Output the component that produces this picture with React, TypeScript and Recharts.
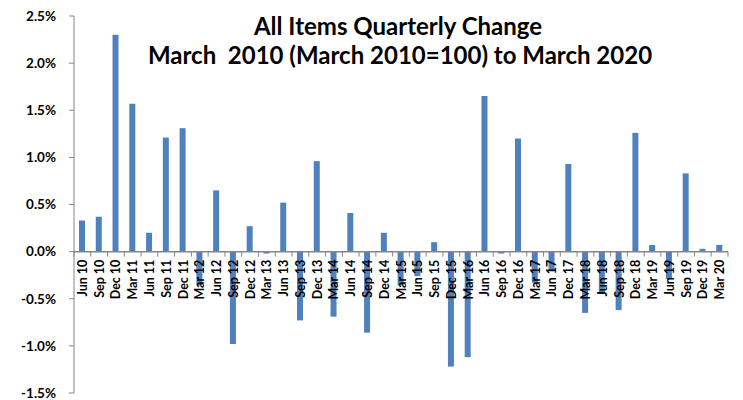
import React from 'react';
import { BarChart, Bar, XAxis, YAxis, ReferenceLine } from 'recharts';

const categories = [
  'Jun 10', 'Sep 10', 'Dec 10', 'Mar 11', 'Jun 11', 'Sep 11', 'Dec 11', 'Mar 12', 'Jun 12', 'Sep 12',
  'Dec 12', 'Mar 13', 'Jun 13', 'Sep 13', 'Dec 13', 'Mar 14', 'Jun 14', 'Sep 14', 'Dec 14', 'Mar 15',
  'Jun 15', 'Sep 15', 'Dec 15', 'Mar 16', 'Jun 16', 'Sep 16', 'Dec 16', 'Mar 17', 'Jun 17', 'Dec 17',
  'Mar 18', 'Jun 18', 'Sep 18', 'Dec 18', 'Mar 19', 'Jun 19', 'Sep 19', 'Dec 19', 'Mar 20',
];

const quarterlyChange = [
  0.33, 0.37, 2.30, 1.57, 0.20, 1.21, 1.31, -0.36, 0.65, -0.98,
  0.27, -0.02, 0.52, -0.73, 0.96, -0.69, 0.41, -0.86, 0.20, -0.36,
  -0.26, 0.10, -1.22, -1.12, 1.65, -0.02, 1.20, -0.33, -0.21, 0.93,
  -0.65, -0.45, -0.62, 1.26, 0.07, -0.29, 0.83, 0.03, 0.07,
];

const yTicks = [-1.5, -1.0, -0.5, 0.0, 0.5, 1.0, 1.5, 2.0, 2.5];

const titleLine1 = 'All Items Quarterly Change';
const titleLine2 = 'March  2010 (March 2010=100) to March 2020';

const data = categories.map((c, i) => ({ quarter: c, value: quarterlyChange[i] }));

const W = 743;
const H = 400;
const MARGIN = { top: 16, right: 15, bottom: 6, left: 0 };
const Y_AXIS_W = 74;
const PLOT_H = H - MARGIN.top - MARGIN.bottom - 1;
const PLOT_W = W - MARGIN.left - MARGIN.right - Y_AXIS_W;
const Y_MIN = yTicks[0];
const Y_MAX = yTicks[yTicks.length - 1];
const ZERO_Y = MARGIN.top + (PLOT_H * Y_MAX) / (Y_MAX - Y_MIN);
const BAND = PLOT_W / categories.length;
const FONT = 'Lato, "Open Sans", sans-serif';
const AXIS_COLOR = '#868686';

const XTick = (props: any) => {
  const { x, payload, index } = props;
  const left = x - BAND / 2;
  const isLast = index === categories.length - 1;
  return (
    <g>
      <line x1={left} y1={ZERO_Y} x2={left} y2={ZERO_Y + 5} stroke={AXIS_COLOR} strokeWidth={1} />
      {isLast && (
        <line x1={x + BAND / 2} y1={ZERO_Y} x2={x + BAND / 2} y2={ZERO_Y + 5} stroke={AXIS_COLOR} strokeWidth={1} />
      )}
      <text
        x={0}
        y={0}
        transform={`translate(${x + 4.5},${ZERO_Y + 8}) rotate(-90)`}
        textAnchor="end"
        fontFamily={FONT}
        fontWeight="bold"
        fontSize={12.5}
        fill="#000"
      >
        {payload.value}
      </text>
    </g>
  );
};

export default function App() {
  return (
    <div style={{ position: 'absolute', left: 0, top: 0, width: W, height: H, background: '#fff' }}>
      <BarChart width={W} height={H} data={data} margin={MARGIN}>
        <XAxis
          dataKey="quarter"
          height={1}
          axisLine={false}
          tickLine={false}
          interval={0}
          tick={<XTick />}
        />
        <YAxis
          width={Y_AXIS_W}
          domain={[Y_MIN, Y_MAX]}
          ticks={yTicks}
          interval={0}
          tickFormatter={(v: number) => `${v.toFixed(1)}%`}
          axisLine={{ stroke: AXIS_COLOR }}
          tickLine={{ stroke: AXIS_COLOR }}
          tickSize={5}
          tickMargin={13}
          tick={{ fontFamily: FONT, fontWeight: 'bold', fontSize: 13.5, fill: '#000' }}
        />
        <ReferenceLine y={0} stroke={AXIS_COLOR} strokeWidth={1.5} />
        <Bar dataKey="value" fill="#4F81BD" barSize={6} isAnimationActive={false} />
        <text x={398} y={35} textAnchor="middle" fontFamily={FONT} fontWeight="bold" fontSize={24} fill="#000">
          {titleLine1}
        </text>
        <text
          x={400}
          y={64}
          textAnchor="middle"
          fontFamily={FONT}
          fontWeight="bold"
          fontSize={24}
          fill="#000"
          style={{ whiteSpace: 'pre' }}
        >
          {titleLine2}
        </text>
      </BarChart>
    </div>
  );
}
